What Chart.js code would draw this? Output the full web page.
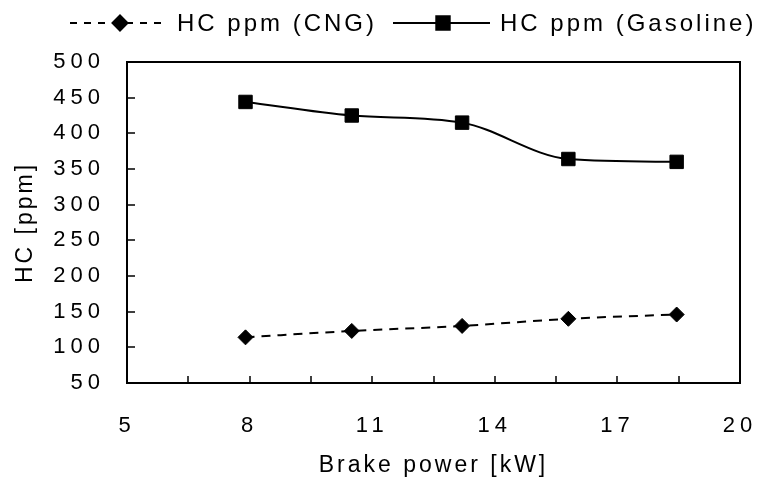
<!DOCTYPE html>
<html><head><meta charset="utf-8">
<script src="https://cdn.jsdelivr.net/npm/chart.js@4/dist/chart.umd.min.js"></script>
<style>html,body{margin:0;padding:0;background:#fff}canvas{display:block}</style>
</head><body>
<canvas id="c" width="762" height="484"></canvas>
<script>
// ---- data ----
const brakePower = [7.9, 10.5, 13.2, 15.8, 18.45];
const hcCNG = [114, 123, 130, 140, 146];
const hcGasoline = [444, 425, 415, 364, 360];
const seriesNames = ['HC ppm (CNG)', 'HC ppm (Gasoline)'];
const xTitle = 'Brake power [kW]';
const yTitle = 'HC [ppm]';
const xRange = [5, 20];
const xTickStep = 1.5;
const xLabelStep = 3;
const yRange = [50, 500];
const yTickStep = 50;

const FONT = '"Liberation Sans", Arial, sans-serif';
const TICK_SPACING = '5px';
const TEXT_SPACING = '3px';
function setSpacing(chart) { chart.ctx.letterSpacing = TICK_SPACING; }

const legendItems = [
  { ds: 0, x0: 70, x1: 167, mx: 120, tx: 177 },
  { ds: 1, x0: 393, x1: 490, mx: 443, tx: 500 }
];
const legendY = 23;

const framePlugin = {
  id: 'frame',
  beforeUpdate: setSpacing,
  beforeLayout: setSpacing,
  afterLayout(chart) {
    Object.values(chart.scales).forEach(s => {
      if (s._wrappedTitle) return;
      const orig = s.drawTitle;
      s.drawTitle = function () {
        const ctx = this.ctx;
        ctx.letterSpacing = TEXT_SPACING;
        orig.apply(this, arguments);
        ctx.letterSpacing = TICK_SPACING;
      };
      s._wrappedTitle = true;
    });
  },
  beforeDraw: setSpacing,
  beforeDatasetsDraw(chart) {
    const { ctx, chartArea: a, scales: { x, y } } = chart;
    ctx.save();
    ctx.strokeStyle = '#000';
    ctx.lineWidth = 2;
    ctx.strokeRect(a.left, a.top, a.right - a.left, a.bottom - a.top);
    ctx.lineWidth = 1.5;
    ctx.beginPath();
    y.ticks.forEach(t => {
      const py = Math.round(y.getPixelForValue(t.value));
      ctx.moveTo(a.left, py); ctx.lineTo(a.left + 8, py);
    });
    x.ticks.forEach(t => {
      const px = Math.round(x.getPixelForValue(t.value));
      ctx.moveTo(px, a.bottom); ctx.lineTo(px, a.bottom - 7);
    });
    ctx.stroke();
    ctx.restore();
  },
  afterDraw(chart) {
    const ctx = chart.ctx;
    ctx.save();
    ctx.letterSpacing = TEXT_SPACING;
    legendItems.forEach(it => {
      const ds = chart.data.datasets[it.ds];
      ctx.strokeStyle = ds.borderColor;
      ctx.lineWidth = ds.borderWidth;
      ctx.setLineDash(ds.legendDash || []);
      ctx.beginPath();
      ctx.moveTo(it.x0, legendY); ctx.lineTo(it.x1, legendY);
      ctx.stroke();
      ctx.setLineDash([]);
      ctx.fillStyle = ds.pointBackgroundColor;
      ctx.strokeStyle = ds.pointBorderColor;
      Chart.helpers.drawPoint(ctx, {
        pointStyle: ds.pointStyle, radius: ds.pointRadius, rotation: 0,
        borderWidth: ds.pointBorderWidth
      }, it.mx, legendY);
      ctx.fillStyle = '#000';
      ctx.font = '24px ' + FONT;
      ctx.textBaseline = 'middle';
      ctx.textAlign = 'left';
      ctx.fillText(ds.label, it.tx, legendY + 1);
    });
    ctx.restore();
  }
};

const toPts = (xs, ys) => xs.map((v, i) => ({ x: v, y: ys[i] }));

new Chart(document.getElementById('c'), {
  type: 'line',
  data: {
    datasets: [
      {
        label: seriesNames[0],
        data: toPts(brakePower, hcCNG),
        borderColor: '#000', borderWidth: 2, borderDash: [9, 7], legendDash: [7, 7],
        pointStyle: 'rectRot', pointRadius: 7.5, pointBorderWidth: 1,
        pointBackgroundColor: '#000', pointBorderColor: '#000',
        cubicInterpolationMode: 'monotone', fill: false
      },
      {
        label: seriesNames[1],
        data: toPts(brakePower, hcGasoline),
        borderColor: '#000', borderWidth: 2,
        pointStyle: 'rect', pointRadius: 9.5, pointBorderWidth: 1,
        pointBackgroundColor: '#000', pointBorderColor: '#000',
        cubicInterpolationMode: 'monotone', fill: false
      }
    ]
  },
  options: {
    responsive: false,
    devicePixelRatio: 1,
    animation: false,
    events: [],
    layout: { padding: { top: 62, right: 22, bottom: 0, left: 0 } },
    plugins: { legend: { display: false }, tooltip: { enabled: false } },
    scales: {
      x: {
        type: 'linear', min: xRange[0], max: xRange[1],
        grid: { display: false, drawTicks: false },
        border: { display: false },
        ticks: {
          stepSize: xTickStep, padding: 30, color: '#000', maxRotation: 0, autoSkip: false,
          font: { family: FONT, size: 22 },
          callback: v => (Math.abs(((v - xRange[0]) / xLabelStep) - Math.round((v - xRange[0]) / xLabelStep)) < 1e-6 ? String(v) : '')
        },
        title: { display: true, text: xTitle, color: '#000', font: { family: FONT, size: 23 }, padding: { top: 0, bottom: 5 } },
        afterFit(s) { s.height = 101; s.paddingLeft = 0; s.paddingRight = 0; }
      },
      y: {
        type: 'linear', min: yRange[0], max: yRange[1],
        grid: { display: false, drawTicks: false },
        border: { display: false },
        ticks: { stepSize: yTickStep, padding: 22, color: '#000', font: { family: FONT, size: 22 } },
        title: { display: true, text: yTitle, color: '#000', font: { family: FONT, size: 23 }, padding: { top: 12, bottom: 0 } },
        afterFit(s) { s.width = 127; s.paddingTop = 0; s.paddingBottom = 0; }
      }
    }
  },
  plugins: [framePlugin]
});
</script>
</body></html>
